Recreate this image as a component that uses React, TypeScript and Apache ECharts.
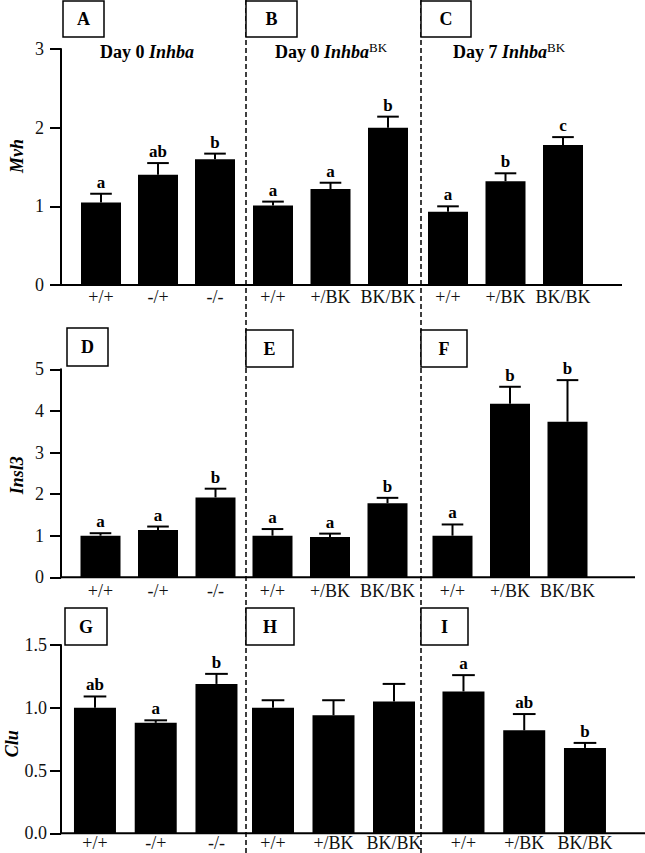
import React, { useEffect, useRef } from "react";
import * as echarts from "echarts";

const FONT = '"Liberation Serif", "Times New Roman", serif';

// ---------- data ----------
const categoriesInhba = ["+/+", "-/+", "-/-"];
const categoriesBK = ["+/+", "+/BK", "BK/BK"];

const genes = ["Mvh", "Insl3", "Clu"];
const yMaxByRow = [3, 5, 1.5];
const yStepByRow = [1, 1, 0.5];

const mvhDay0Inhba = [1.05, 1.4, 1.6];
const mvhDay0InhbaSem = [0.11, 0.15, 0.07];
const mvhDay0InhbaLetters = ["a", "ab", "b"];

const mvhDay0BK = [1.01, 1.22, 2.0];
const mvhDay0BKSem = [0.05, 0.08, 0.14];
const mvhDay0BKLetters = ["a", "a", "b"];

const mvhDay7BK = [0.93, 1.32, 1.78];
const mvhDay7BKSem = [0.07, 0.1, 0.1];
const mvhDay7BKLetters = ["a", "b", "c"];

const insl3Day0Inhba = [1.0, 1.14, 1.92];
const insl3Day0InhbaSem = [0.06, 0.08, 0.21];
const insl3Day0InhbaLetters = ["a", "a", "b"];

const insl3Day0BK = [1.0, 0.97, 1.78];
const insl3Day0BKSem = [0.16, 0.08, 0.13];
const insl3Day0BKLetters = ["a", "a", "b"];

const insl3Day7BK = [1.0, 4.17, 3.74];
const insl3Day7BKSem = [0.27, 0.41, 1.0];
const insl3Day7BKLetters = ["a", "b", "b"];

const cluDay0Inhba = [1.0, 0.88, 1.19];
const cluDay0InhbaSem = [0.09, 0.02, 0.08];
const cluDay0InhbaLetters = ["ab", "a", "b"];

const cluDay0BK = [1.0, 0.94, 1.05];
const cluDay0BKSem = [0.06, 0.12, 0.14];
const cluDay0BKLetters = ["", "", ""];

const cluDay7BK = [1.13, 0.82, 0.68];
const cluDay7BKSem = [0.13, 0.13, 0.04];
const cluDay7BKLetters = ["a", "ab", "b"];

const panelLetters = ["A", "B", "C", "D", "E", "F", "G", "H", "I"];

// ---------- layout ----------
const panelData = [
  { cats: categoriesInhba, v: mvhDay0Inhba, e: mvhDay0InhbaSem, l: mvhDay0InhbaLetters },
  { cats: categoriesBK, v: mvhDay0BK, e: mvhDay0BKSem, l: mvhDay0BKLetters },
  { cats: categoriesBK, v: mvhDay7BK, e: mvhDay7BKSem, l: mvhDay7BKLetters },
  { cats: categoriesInhba, v: insl3Day0Inhba, e: insl3Day0InhbaSem, l: insl3Day0InhbaLetters },
  { cats: categoriesBK, v: insl3Day0BK, e: insl3Day0BKSem, l: insl3Day0BKLetters },
  { cats: categoriesBK, v: insl3Day7BK, e: insl3Day7BKSem, l: insl3Day7BKLetters },
  { cats: categoriesInhba, v: cluDay0Inhba, e: cluDay0InhbaSem, l: cluDay0InhbaLetters },
  { cats: categoriesBK, v: cluDay0BK, e: cluDay0BKSem, l: cluDay0BKLetters },
  { cats: categoriesBK, v: cluDay7BK, e: cluDay7BKSem, l: cluDay7BKLetters },
];

const gridRects = [
  [72.5, 49, 171, 236],
  [244.25, 49, 172.5, 236],
  [419.25, 49, 172.5, 236],
  [71.75, 369.3, 172.5, 208],
  [243.75, 369.3, 172.5, 208],
  [423.75, 369.3, 172.5, 208],
  [64.6, 645, 182.25, 188.3],
  [242.75, 645, 181.5, 188.3],
  [433.1, 645, 182.25, 188.3],
];
const yAxisOffsets = [11.5, 10.75, 3.6];
const barWidths = [40, 40, 42];
const xLabelMargins = [3, 5, 1];
const yLabelMargins = [17, 17, 14];
const rowAxisEnds = [622, 635, 645];
const namePaddings = [
  [0, 0, 0, 22],
  [0, 4, 0, 0],
  [0, 9, 0, 0],
];

const letterBoxes = [
  [63, 1, 41, 36],
  [246, 1, 51, 36],
  [421, 1, 50, 36],
  [67, 328, 41, 38],
  [246, 330, 47, 37],
  [421, 330, 46, 37],
  [65, 608, 42, 37],
  [246, 608, 48, 37],
  [421, 608, 47, 37],
];

const titleTexts = [
  "{b|Day 0 }{bi|Inhba}",
  "{b|Day 0 }{bi|Inhba}{sup|BK}",
  "{b|Day 7 }{bi|Inhba}{sup|BK}",
];
const titlePos = [
  [147, 52],
  [331, 52],
  [509, 52],
];

export default function App() {
  const ref = useRef<HTMLDivElement>(null);
  useEffect(() => {
    if (!ref.current) return;
    const chart = echarts.init(ref.current, null, { renderer: "svg" });

    const grids: any[] = [];
    const xAxes: any[] = [];
    const yAxes: any[] = [];
    const series: any[] = [];

    panelData.forEach((p, i) => {
      const row = Math.floor(i / 3);
      const col = i % 3;
      const r = gridRects[i];
      grids.push({
        left: r[0],
        top: r[1],
        width: r[2],
        height: r[3],
        containLabel: false,
        outerBoundsMode: "none",
      });
      xAxes.push({
        type: "category",
        gridIndex: i,
        data: p.cats,
        axisLine: { show: false },
        axisTick: { show: false },
        axisLabel: {
          interval: 0,
          margin: xLabelMargins[row],
          color: "#111",
          fontFamily: FONT,
          fontSize: 18,
        },
      });
      const left = col === 0;
      yAxes.push({
        type: "value",
        gridIndex: i,
        min: 0,
        max: yMaxByRow[row],
        interval: yStepByRow[row],
        show: left,
        offset: left ? yAxisOffsets[row] : 0,
        name: left ? genes[row] : "",
        nameLocation: "middle",
        nameRotate: 90,
        nameGap: 35,
        nameTextStyle: {
          fontFamily: FONT,
          fontSize: 18,
          fontWeight: "bold",
          fontStyle: "italic",
          color: "#000",
          padding: namePaddings[row],
        },
        splitLine: { show: false },
        axisLine: { show: true, lineStyle: { color: "#000", width: 2 } },
        axisTick: { show: true, length: 11, lineStyle: { color: "#000", width: 2 } },
        axisLabel: {
          margin: yLabelMargins[row],
          color: "#111",
          fontFamily: FONT,
          fontSize: 18,
          formatter: (v: number) => (row === 2 ? v.toFixed(1) : String(v)),
        },
      });
      series.push({
        type: "bar",
        xAxisIndex: i,
        yAxisIndex: i,
        data: p.v,
        barWidth: barWidths[row],
        itemStyle: { color: "#000" },
        z: 2,
      });
      const letters = p.l;
      series.push({
        type: "custom",
        xAxisIndex: i,
        yAxisIndex: i,
        z: 3,
        data: p.v.map((m, k) => [k, m, p.e[k]]),
        renderItem: (params: any, api: any) => {
          const k = api.value(0);
          const m = api.value(1);
          const e = api.value(2);
          const p0 = api.coord([k, m]);
          const p1 = api.coord([k, m + e]);
          const half = barWidths[row] * 0.27;
          return {
            type: "group",
            children: [
              {
                type: "line",
                shape: { x1: p0[0], y1: p0[1], x2: p1[0], y2: p1[1] },
                style: { stroke: "#000", lineWidth: 2 },
              },
              {
                type: "line",
                shape: { x1: p1[0] - half, y1: p1[1], x2: p1[0] + half, y2: p1[1] },
                style: { stroke: "#000", lineWidth: 2 },
              },
              {
                type: "text",
                x: p1[0],
                y: p1[1] - 3,
                style: {
                  text: letters[params.dataIndex],
                  fill: "#000",
                  font: `bold 17px ${FONT}`,
                  align: "center",
                  verticalAlign: "bottom",
                },
              },
            ],
          };
        },
      });
    });

    const graphic: any[] = [];
    // dashed separators
    [246, 421].forEach((x) => {
      graphic.push({
        type: "line",
        shape: { x1: x, y1: 0, x2: x, y2: 853 },
        style: { stroke: "#000", lineWidth: 1.5, lineDash: [5, 3] },
        z: 10,
      });
    });
    // x axis lines per row
    [0, 1, 2].forEach((row) => {
      const r = gridRects[row * 3];
      const y = r[1] + r[3];
      graphic.push({
        type: "line",
        shape: { x1: 61, y1: y, x2: rowAxisEnds[row], y2: y },
        style: { stroke: "#000", lineWidth: 2 },
        z: 10,
      });
    });
    // panel letter boxes
    letterBoxes.forEach((b, i) => {
      graphic.push({
        type: "rect",
        shape: { x: b[0], y: b[1], width: b[2], height: b[3] },
        style: { fill: "#fff", stroke: "#000", lineWidth: 1.5 },
        z: 11,
      });
      graphic.push({
        type: "text",
        x: b[0] + b[2] / 2,
        y: b[1] + b[3] / 2,
        style: {
          text: panelLetters[i],
          fill: "#000",
          font: `bold 18px ${FONT}`,
          align: "center",
          verticalAlign: "middle",
        },
        z: 12,
      });
    });
    // titles
    titleTexts.forEach((t, i) => {
      graphic.push({
        type: "text",
        x: titlePos[i][0],
        y: titlePos[i][1],
        style: {
          text: t,
          align: "center",
          verticalAlign: "middle",
          rich: {
            b: { fontFamily: FONT, fontSize: 18, fontWeight: "bold", color: "#000", lineHeight: 22 },
            bi: { fontFamily: FONT, fontSize: 18, fontWeight: "bold", fontStyle: "italic", color: "#000", lineHeight: 22 },
            sup: { fontFamily: FONT, fontSize: 13, color: "#000", verticalAlign: "top", lineHeight: 14 },
          },
        },
        z: 12,
      });
    });

    chart.setOption({
      animation: false,
      backgroundColor: "#fff",
      grid: grids,
      xAxis: xAxes,
      yAxis: yAxes,
      series,
      graphic,
    });
    return () => chart.dispose();
  }, []);
  return (
    <div
      ref={ref}
      style={{ position: "absolute", left: 0, top: 0, width: 645, height: 853 }}
    />
  );
}
